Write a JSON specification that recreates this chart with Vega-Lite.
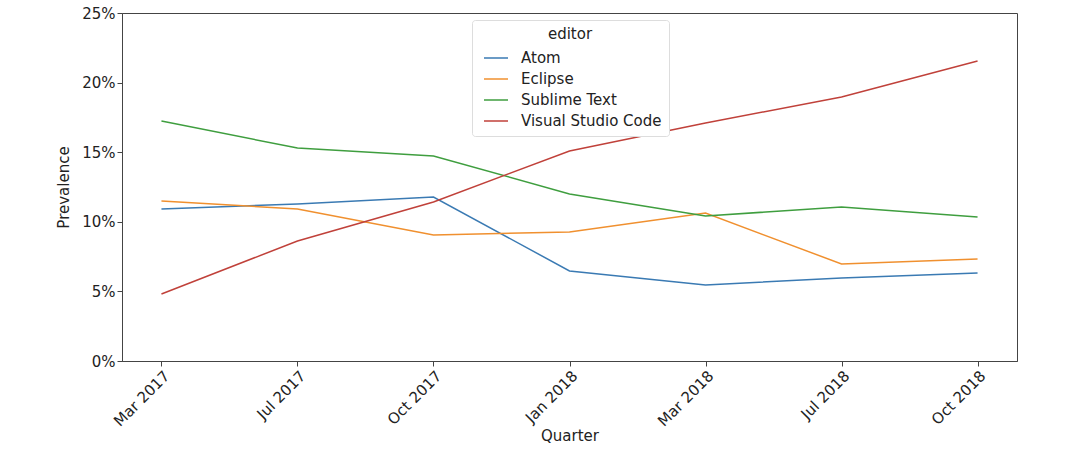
{
  "$schema": "https://vega.github.io/schema/vega-lite/v6.json",
  "width": 895,
  "height": 348,
  "autosize": {"type": "none"},
  "padding": {"left": 122, "top": 13, "right": 63, "bottom": 96},
  "background": "white",
  "config": {
    "font": "DejaVu Sans",
    "view": {"stroke": "#444444", "strokeWidth": 1},
    "axis": {"domainColor": "#444444", "tickColor": "#444444", "labelColor": "#222222", "titleColor": "#222222", "labelFontSize": 15, "titleFontSize": 15, "titleFontWeight": "normal", "grid": false, "tickSize": 5}
  },
  "data": {
    "values": [
      {"Quarter": "Mar 2017", "editor": "Atom", "value": 0.1092},
      {"Quarter": "Jul 2017", "editor": "Atom", "value": 0.1128},
      {"Quarter": "Oct 2017", "editor": "Atom", "value": 0.1178},
      {"Quarter": "Jan 2018", "editor": "Atom", "value": 0.0647},
      {"Quarter": "Mar 2018", "editor": "Atom", "value": 0.0546},
      {"Quarter": "Jul 2018", "editor": "Atom", "value": 0.0596},
      {"Quarter": "Oct 2018", "editor": "Atom", "value": 0.0632},
      {"Quarter": "Mar 2017", "editor": "Eclipse", "value": 0.1149},
      {"Quarter": "Jul 2017", "editor": "Eclipse", "value": 0.1092},
      {"Quarter": "Oct 2017", "editor": "Eclipse", "value": 0.0905},
      {"Quarter": "Jan 2018", "editor": "Eclipse", "value": 0.0927},
      {"Quarter": "Mar 2018", "editor": "Eclipse", "value": 0.1063},
      {"Quarter": "Jul 2018", "editor": "Eclipse", "value": 0.0697},
      {"Quarter": "Oct 2018", "editor": "Eclipse", "value": 0.0733},
      {"Quarter": "Mar 2017", "editor": "Sublime Text", "value": 0.1724},
      {"Quarter": "Jul 2017", "editor": "Sublime Text", "value": 0.1530},
      {"Quarter": "Oct 2017", "editor": "Sublime Text", "value": 0.1473},
      {"Quarter": "Jan 2018", "editor": "Sublime Text", "value": 0.1200},
      {"Quarter": "Mar 2018", "editor": "Sublime Text", "value": 0.1042},
      {"Quarter": "Jul 2018", "editor": "Sublime Text", "value": 0.1106},
      {"Quarter": "Oct 2018", "editor": "Sublime Text", "value": 0.1034},
      {"Quarter": "Mar 2017", "editor": "Visual Studio Code", "value": 0.0481},
      {"Quarter": "Jul 2017", "editor": "Visual Studio Code", "value": 0.0862},
      {"Quarter": "Oct 2017", "editor": "Visual Studio Code", "value": 0.1142},
      {"Quarter": "Jan 2018", "editor": "Visual Studio Code", "value": 0.1509},
      {"Quarter": "Mar 2018", "editor": "Visual Studio Code", "value": 0.1710},
      {"Quarter": "Jul 2018", "editor": "Visual Studio Code", "value": 0.1897},
      {"Quarter": "Oct 2018", "editor": "Visual Studio Code", "value": 0.2155}
    ]
  },
  "mark": {"type": "line", "strokeWidth": 1.5},
  "encoding": {
    "x": {
      "field": "Quarter", "type": "ordinal",
      "sort": ["Mar 2017", "Jul 2017", "Oct 2017", "Jan 2018", "Mar 2018", "Jul 2018", "Oct 2018"],
      "scale": {"type": "point", "padding": 0.29},
      "axis": {"labelAngle": -45, "labelAlign": "right", "labelBaseline": "top", "title": "Quarter", "titlePadding": 0}
    },
    "y": {
      "field": "value", "type": "quantitative",
      "scale": {"domain": [0, 0.25], "nice": false},
      "axis": {"format": ".0%", "values": [0, 0.05, 0.1, 0.15, 0.2, 0.25], "title": "Prevalence", "titlePadding": 10}
    },
    "color": {
      "field": "editor", "type": "nominal",
      "scale": {"domain": ["Atom", "Eclipse", "Sublime Text", "Visual Studio Code"], "range": ["#3a7ab3", "#f0902f", "#3f9e3f", "#c0413a"]},
      "legend": {
        "orient": "none", "legendX": 350, "legendY": 7,
        "title": "editor", "titleFontSize": 15, "titleFontWeight": "normal", "titleAnchor": "middle", "titleColor": "#222222", "titlePadding": 3,
        "labelFontSize": 15, "labelColor": "#222222", "labelOffset": 12,
        "symbolType": "stroke", "symbolSize": 576, "symbolStrokeWidth": 1.5, "symbolOffset": 4,
        "rowPadding": 0, "padding": 7, "strokeColor": "#dddddd", "fillColor": "white", "cornerRadius": 3
      }
    }
  }
}
